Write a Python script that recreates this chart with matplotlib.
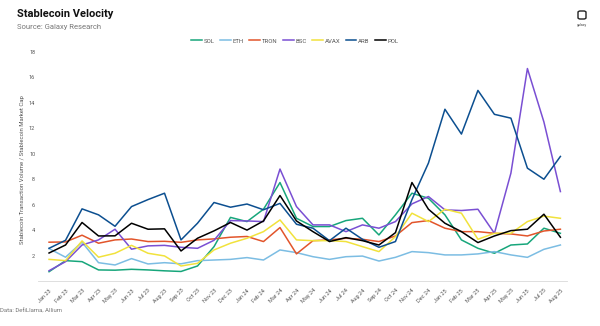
import matplotlib
matplotlib.use("Agg")
import matplotlib.pyplot as plt
from matplotlib.patches import FancyBboxPatch

plt.rcParams['font.family'] = ['Roboto', 'DejaVu Sans']

months = ["Jan 23", "Feb 23", "Mar 23", "Apr 23", "May 23", "Jun 23", "Jul 23", "Aug 23",
          "Sep 23", "Oct 23", "Nov 23", "Dec 23", "Jan 24", "Feb 24", "Mar 24", "Apr 24",
          "May 24", "Jun 24", "Jul 24", "Aug 24", "Sep 24", "Oct 24", "Nov 24", "Dec 24",
          "Jan 25", "Feb 25", "Mar 25", "Apr 25", "May 25", "Jun 25", "Jul 25", "Aug 25"]

sol = [0.73, 1.6, 1.52, 0.87, 0.85, 0.92, 0.87, 0.8, 0.75, 1.18, 2.7, 5.0, 4.67, 5.64, 7.74, 4.93,
       4.28, 4.28, 4.75, 4.93, 3.62, 5.2, 6.9, 6.5, 5.2, 3.23, 2.57, 2.18, 2.83, 2.91, 4.15, 3.75]
eth = [2.55, 1.87, 3.05, 1.44, 1.26, 1.76, 1.34, 1.44, 1.35, 1.6, 1.65, 1.7, 1.84, 1.65, 2.44, 2.23,
       1.91, 1.7, 1.91, 1.96, 1.57, 1.86, 2.31, 2.23, 2.05, 2.05, 2.13, 2.31, 2.05, 1.86, 2.49, 2.83]
tron = [3.05, 3.07, 3.6, 2.97, 3.23, 3.3, 3.1, 3.12, 3.04, 3.23, 3.31, 3.44, 3.5, 3.1, 4.2, 2.13,
        3.17, 3.23, 3.36, 3.28, 3.1, 3.54, 4.59, 4.75, 4.15, 3.88, 3.88, 3.75, 3.7, 3.54, 3.93, 4.07]
bsc = [0.81, 1.52, 2.83, 3.23, 4.07, 2.5, 2.76, 2.8, 2.65, 2.57, 3.2, 4.75, 4.72, 4.67, 8.8, 5.85,
       4.41, 4.41, 3.88, 4.41, 4.15, 4.67, 6.06, 6.64, 5.59, 5.54, 5.64, 3.75, 8.48, 16.7, 12.5, 7.03]
avax = [1.7, 1.6, 3.15, 1.87, 2.18, 2.8, 2.18, 1.97, 1.18, 1.39, 2.44, 2.97, 3.36, 3.88, 4.8, 3.23,
        3.17, 3.17, 3.1, 2.7, 2.31, 3.49, 5.33, 4.67, 5.64, 5.33, 3.28, 3.75, 3.75, 4.67, 5.1, 4.93]
arb = [2.57, 3.2, 5.67, 5.2, 4.3, 5.85, 6.4, 6.9, 3.23, 4.54, 6.17, 5.8, 6.05, 5.6, 6.1, 4.46,
       4.15, 3.17, 4.15, 3.28, 2.65, 3.1, 6.4, 9.27, 13.5, 11.55, 14.98, 13.1, 12.8, 8.87, 8.0, 9.79]
pol = [2.2, 2.83, 4.6, 3.54, 3.55, 4.54, 4.07, 4.1, 2.36, 3.36, 3.94, 4.6, 4.0, 4.72, 6.72, 4.72,
       3.88, 3.1, 3.41, 3.17, 2.83, 3.8, 7.74, 5.64, 4.54, 3.88, 3.02, 3.54, 3.96, 4.07, 5.25, 3.44]

series = [("SOL", sol, "#17a67b"), ("ETH", eth, "#7cbde3"), ("TRON", tron, "#e2552b"),
          ("BSC", bsc, "#7a4fd3"), ("AVAX", avax, "#f1e23c"), ("ARB", arb, "#0c4f90"),
          ("POL", pol, "#000000")]

fig = plt.figure(figsize=(6, 3.26), dpi=100)
ax = fig.add_axes([38 / 600, 1 - 281 / 326, (567 - 38) / 600, (281 - 52) / 326])

x = list(range(len(months)))
for name, vals, col in series:
    ax.plot(x, vals, color=col, lw=1.1, label=name)

ax.set_xlim(-0.67, 31.4)
ax.set_ylim(0, 18)
ax.set_yticks([2, 4, 6, 8, 10, 12, 14, 16, 18])
ax.set_xticks(x)
ax.set_xticklabels(months, rotation=45, ha='right', rotation_mode='anchor')
ax.tick_params(axis='both', length=0, labelsize=4, colors='#555555', pad=2)
ax.tick_params(axis='x', pad=5)
for s in ['top', 'right', 'left']:
    ax.spines[s].set_visible(False)
ax.spines['bottom'].set_color('#d9d9d9')
ax.spines['bottom'].set_linewidth(0.6)

fig.text(23 / 600, 1 - 170 / 326, "Stablecoin Transaction Volume / Stablecoin Market Cap",
         rotation=90, ha='center', va='center', fontsize=4.3, color='#555555')

fig.text(17 / 600, 1 - 14 / 326, "Stablecoin Velocity", fontsize=8, fontweight='bold',
         color='#111111', ha='left', va='center')
fig.text(17 / 600, 1 - 27 / 326, "Source: Galaxy Research", fontsize=5.5,
         color='#777777', ha='left', va='center')
fig.text(0, 1 - 311 / 326, "Data: DefiLlama, Allium", fontsize=4.3,
         color='#777777', ha='left', va='center')

# galaxy logo
fig.patches.append(FancyBboxPatch((578 / 600, 1 - 19 / 326), 8 / 600, 8 / 326,
                                  boxstyle="round,pad=0,rounding_size=0.004",
                                  transform=fig.transFigure, fill=False,
                                  ec='#222222', lw=1.0))
fig.text(582 / 600, 1 - 25 / 326, "galaxy", fontsize=2.5, color='#444444',
         ha='center', va='center')

fig.legend(loc='center', bbox_to_anchor=(295 / 600, 1 - 41 / 326), ncol=7,
           frameon=False, fontsize=4.3, handlelength=1.8, handletextpad=0.3,
           columnspacing=0.9, labelcolor='#555555')

fig.savefig("out.png", dpi=100, facecolor='white')
